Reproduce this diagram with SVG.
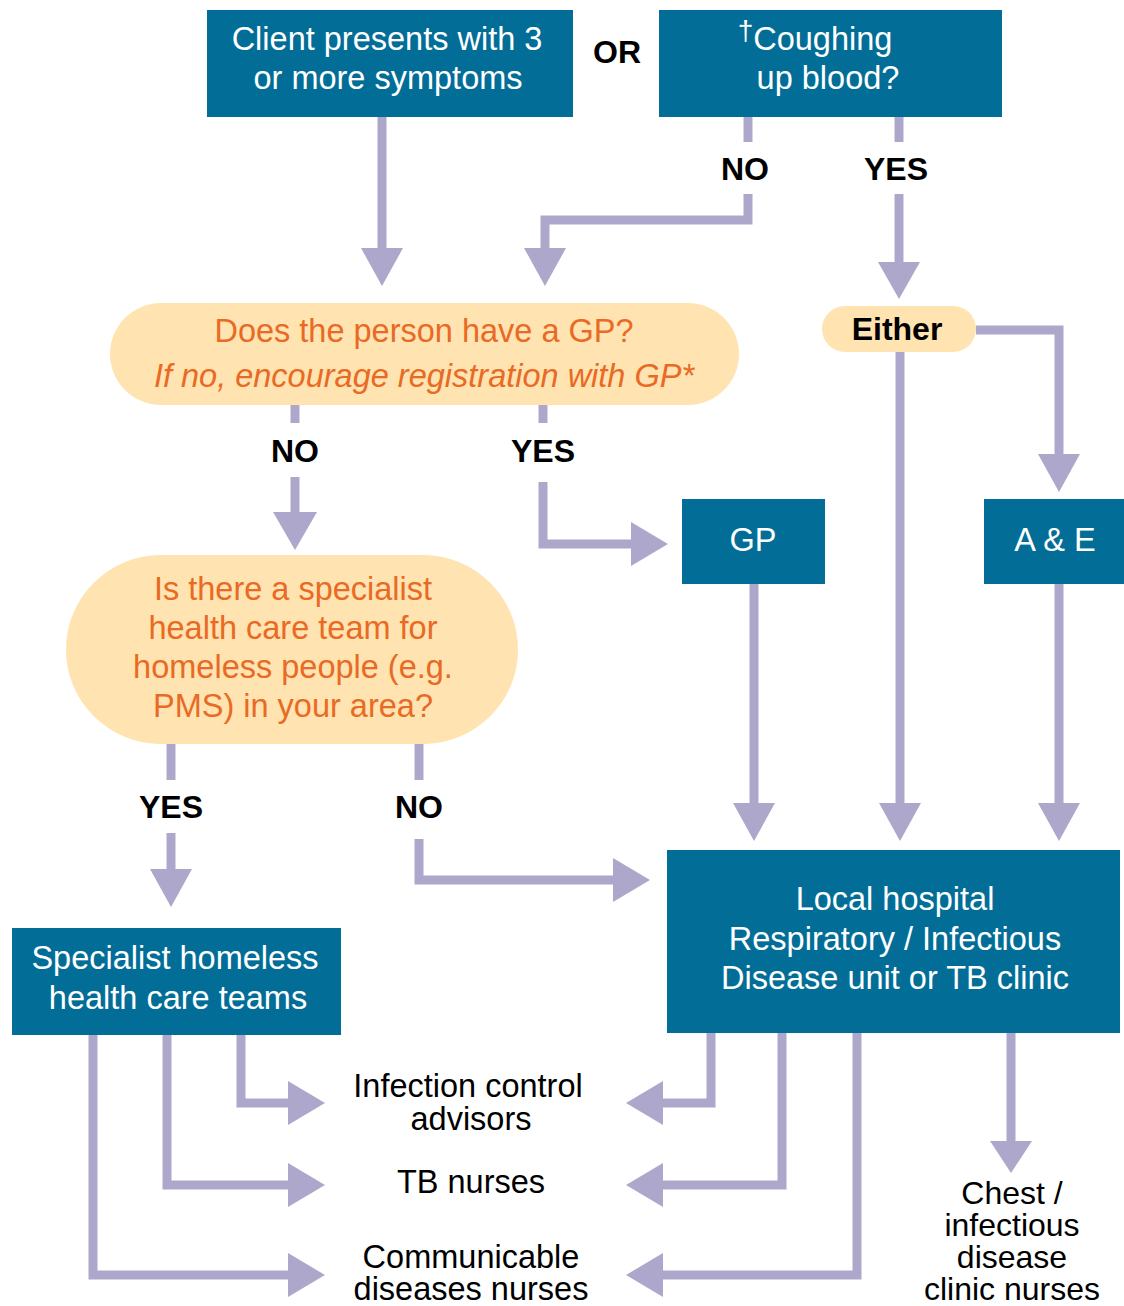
<svg xmlns="http://www.w3.org/2000/svg" width="1124" height="1306" viewBox="0 0 1124 1306">
<defs>
<style>
.box{fill:#026E97;}
.pill{fill:#FFE3B0;}
.t{font-family:"Liberation Sans",Arial,sans-serif;font-size:32.5px;text-anchor:middle;}
.w{fill:#FFFFFF;}
.o{fill:#E86A24;}
.k{fill:#000000;}
.b{font-weight:bold;font-size:32px;}
.i{font-style:italic;}
.s{font-size:32px;}
.c{fill:none;stroke:#ADA8CB;stroke-width:9;stroke-linejoin:miter;stroke-linecap:butt;}
.ah{fill:#ADA8CB;}
</style>
</defs>
<rect width="1124" height="1306" fill="#FFFFFF"/>

<g id="connectors">
<path class="c" d="M382,117 V252"/>
<polygon class="ah" points="361,248 403,248 382,286"/>
<path class="c" d="M748,117 V142"/>
<path class="c" d="M748,194 V220 H545 V252"/>
<polygon class="ah" points="524,248 566,248 545,286"/>
<path class="c" d="M899,117 V142"/>
<path class="c" d="M899,194 V266"/>
<polygon class="ah" points="878,262 920,262 899,299"/>
<path class="c" d="M295,405 V423"/>
<path class="c" d="M295,477 V516"/>
<polygon class="ah" points="273,512 317,512 295,550"/>
<path class="c" d="M543,405 V423"/>
<path class="c" d="M543,482 V544 H635"/>
<polygon class="ah" points="631,522 631,566 668,544"/>
<path class="c" d="M900,352 V807"/>
<polygon class="ah" points="879,803 921,803 900,841"/>
<path class="c" d="M976,330 H1059 V458"/>
<polygon class="ah" points="1038,454 1080,454 1059,492"/>
<path class="c" d="M754,584 V807"/>
<polygon class="ah" points="733,803 775,803 754,841"/>
<path class="c" d="M1059,584 V807"/>
<polygon class="ah" points="1038,803 1080,803 1059,841"/>
<path class="c" d="M171,744 V780"/>
<path class="c" d="M171,833 V873"/>
<polygon class="ah" points="150,869 192,869 171,907"/>
<path class="c" d="M419,744 V780"/>
<path class="c" d="M419,839 V880 H617"/>
<polygon class="ah" points="613,858 613,902 650,880"/>
<path class="c" d="M241,1035 V1103 H292"/>
<polygon class="ah" points="288,1081 288,1125 325,1103"/>
<path class="c" d="M167,1035 V1185 H292"/>
<polygon class="ah" points="288,1163 288,1207 325,1185"/>
<path class="c" d="M93,1035 V1275 H292"/>
<polygon class="ah" points="288,1253 288,1297 325,1275"/>
<path class="c" d="M711,1033 V1103 H659"/>
<polygon class="ah" points="663,1081 663,1125 626,1103"/>
<path class="c" d="M782,1033 V1185 H659"/>
<polygon class="ah" points="663,1163 663,1207 626,1185"/>
<path class="c" d="M857,1033 V1275 H659"/>
<polygon class="ah" points="663,1253 663,1297 626,1275"/>
<path class="c" d="M1011,1033 V1145"/>
<polygon class="ah" points="990,1141 1032,1141 1011,1173"/>
</g>

<g id="labels">
<text class="t b k" x="617" y="63">OR</text>
<text class="t b k" x="745" y="180">NO</text>
<text class="t b k" x="896" y="180">YES</text>
<text class="t b k" x="295" y="462">NO</text>
<text class="t b k" x="543" y="462">YES</text>
<text class="t b k" x="171" y="818">YES</text>
<text class="t b k" x="419" y="818">NO</text>
</g>

<g id="node-client">
<rect class="box" x="207" y="10" width="366" height="107"/>
<text class="t w" x="387" y="50">Client presents with 3</text>
<text class="t w" x="388" y="89">or more symptoms</text>
</g>

<g id="node-coughing">
<rect class="box" x="659" y="10" width="343" height="107"/>
<text class="t w" x="815" y="50"><tspan font-size="28" dy="-10">†</tspan><tspan dy="10">Coughing</tspan></text>
<text class="t w" x="828" y="89">up blood?</text>
</g>

<g id="node-hasgp">
<rect class="pill" x="110" y="303" width="629" height="102" rx="51" ry="51"/>
<text class="t o" x="424" y="342">Does the person have a GP?</text>
<text class="t o i" x="424" y="387">If no, encourage registration with GP*</text>
</g>

<g id="node-either">
<rect class="pill" x="822" y="306" width="154" height="46" rx="23" ry="23"/>
<text class="t b k" x="897" y="340">Either</text>
</g>

<g id="node-gp">
<rect class="box" x="682" y="499" width="143" height="85"/>
<text class="t w" x="753" y="551">GP</text>
</g>

<g id="node-ae">
<rect class="box" x="984" y="499" width="140" height="85"/>
<text class="t w" x="1055" y="551">A &amp; E</text>
</g>

<g id="node-specialist-q">
<rect class="pill" x="66" y="555" width="452" height="189" rx="95" ry="95"/>
<text class="t o" x="293" y="600">Is there a specialist</text>
<text class="t o" x="293" y="639">health care team for</text>
<text class="t o" x="293" y="678">homeless people (e.g.</text>
<text class="t o" x="293" y="717">PMS) in your area?</text>
</g>

<g id="node-specialist-teams">
<rect class="box" x="12" y="928" width="329" height="107"/>
<text class="t w" x="175" y="969">Specialist homeless</text>
<text class="t w" x="178" y="1009">health care teams</text>
</g>

<g id="node-hospital">
<rect class="box" x="667" y="850" width="453" height="183"/>
<text class="t w" x="895" y="910">Local hospital</text>
<text class="t w" x="895" y="950">Respiratory / Infectious</text>
<text class="t w" x="895" y="989">Disease unit or TB clinic</text>
</g>

<g id="node-infection-control">
<text class="t k" x="468" y="1097">Infection control</text>
<text class="t k" x="471" y="1130">advisors</text>
</g>

<g id="node-tb-nurses">
<text class="t k" x="471" y="1193">TB nurses</text>
</g>

<g id="node-communicable">
<text class="t k" x="471" y="1268">Communicable</text>
<text class="t k" x="471" y="1300">diseases nurses</text>
</g>

<g id="node-chest">
<text class="t k s" x="1012" y="1204">Chest /</text>
<text class="t k s" x="1012" y="1236">infectious</text>
<text class="t k s" x="1012" y="1268">disease</text>
<text class="t k s" x="1012" y="1300">clinic nurses</text>
</g>
</svg>
